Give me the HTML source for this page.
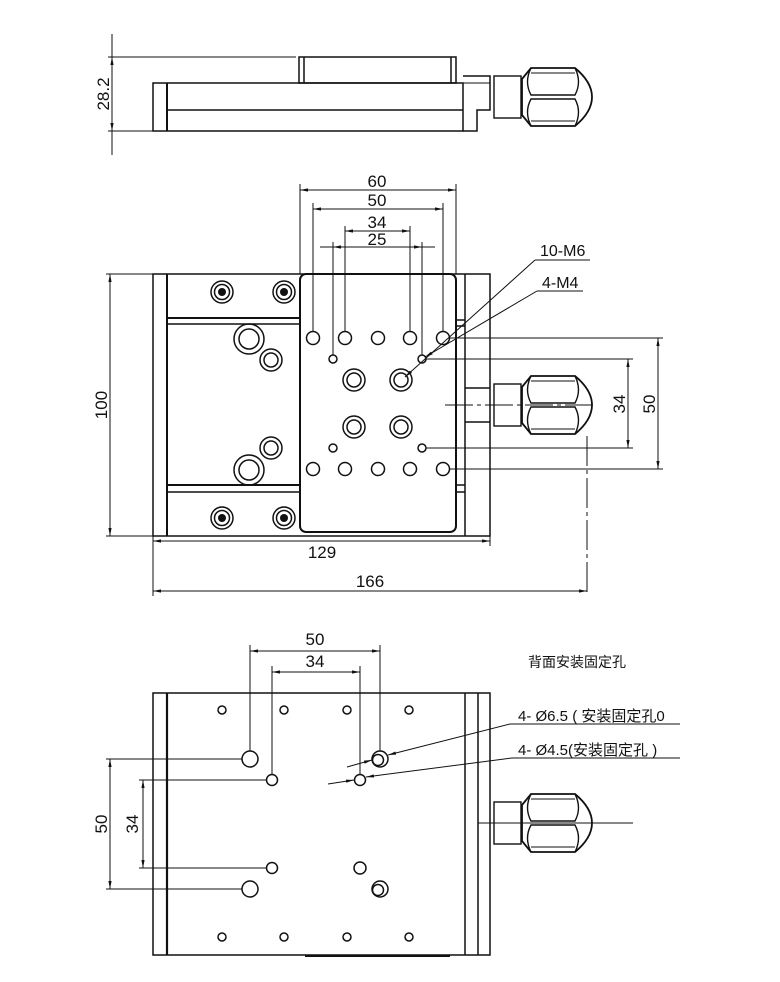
<!DOCTYPE html>
<html><head><meta charset="utf-8"><style>
html,body{margin:0;padding:0;background:#fff}
svg{display:block}
text{font-family:"Liberation Sans Narrow","Liberation Sans","Noto Sans CJK SC",sans-serif;fill:#111}
</style></head><body>
<svg width="780" height="982" viewBox="0 0 780 982" xmlns="http://www.w3.org/2000/svg">
<defs>
<marker id="a" viewBox="0 0 10 10" refX="10" refY="5" markerWidth="8" markerHeight="8" orient="auto-start-reverse"><path d="M0,3 L10,5 L0,7 z" fill="#111"/></marker>
<g id="knob">
<rect x="494" y="-21" width="27" height="42" fill="none" stroke="#111" stroke-width="1.4"/>
<path d="M531,-29 L575,-29 Q592,-15 592,0 Q592,15 575,29 L531,29 L522,18 L522,-18 Z" fill="none" stroke="#111" stroke-width="1.8"/>
<path d="M531,-29 Q524,-15 531,-2 L575,-2 Q582,-15 575,-29" fill="none" stroke="#111" stroke-width="1.4"/>
<path d="M531,29 Q524,15 531,2 L575,2 Q582,15 575,29" fill="none" stroke="#111" stroke-width="1.4"/>
<line x1="531" y1="-24" x2="575" y2="-24" stroke="#111" stroke-width="1"/>
<line x1="531" y1="24" x2="575" y2="24" stroke="#111" stroke-width="1"/>
</g>
</defs>
<g fill="none" stroke="#111" stroke-width="1.5">
<!-- TOP VIEW -->
<line x1="112" y1="34" x2="112" y2="155" stroke-width="1"/>
<line x1="112" y1="57" x2="112" y2="131" marker-start="url(#a)" marker-end="url(#a)" stroke-width="1"/>
<line x1="108" y1="57" x2="296" y2="57" stroke-width="1"/>
<line x1="108" y1="131" x2="153" y2="131" stroke-width="1"/>
<rect x="153" y="83" width="310" height="48"/>
<line x1="167" y1="83" x2="167" y2="131" stroke-width="2"/>
<line x1="167" y1="110" x2="463" y2="110"/>
<rect x="299" y="57" width="157" height="26"/>
<line x1="304" y1="57" x2="304" y2="83"/><line x1="451" y1="57" x2="451" y2="83"/>
<path d="M463,76 L490,76 L490,110 L477,110 L477,131 L463,131"/>
<line x1="463" y1="83" x2="490" y2="83" stroke-width="1"/>
<g transform="translate(0,97)"><use href="#knob"/></g>
<!-- MIDDLE VIEW -->
<rect x="153" y="274" width="337" height="262"/>
<line x1="167" y1="274" x2="167" y2="536" stroke-width="2"/>
<line x1="465" y1="274" x2="465" y2="536"/>
<rect x="300" y="274" width="156" height="258" rx="6" stroke-width="2"/>
<line x1="167" y1="318" x2="300" y2="318" stroke-width="2"/><line x1="167" y1="324" x2="300" y2="324"/>
<line x1="167" y1="485" x2="300" y2="485" stroke-width="2"/><line x1="167" y1="492" x2="300" y2="492"/>
<line x1="456" y1="320" x2="465" y2="320"/><line x1="456" y1="326" x2="465" y2="326"/>
<line x1="456" y1="485" x2="465" y2="485"/><line x1="456" y1="492" x2="465" y2="492"/>
<g>
<circle cx="222" cy="292" r="11"/><circle cx="222" cy="292" r="7.5"/>
<circle cx="284" cy="292" r="11"/><circle cx="284" cy="292" r="7.5"/>
<circle cx="222" cy="518" r="11"/><circle cx="222" cy="518" r="7.5"/>
<circle cx="284" cy="518" r="11"/><circle cx="284" cy="518" r="7.5"/>
</g>
<g fill="#111" stroke="none"><circle cx="222" cy="292" r="4"/><circle cx="284" cy="292" r="4"/><circle cx="222" cy="518" r="4"/><circle cx="284" cy="518" r="4"/></g>
<circle cx="249" cy="339" r="15"/><circle cx="249" cy="339" r="10"/>
<circle cx="271" cy="360" r="11"/><circle cx="271" cy="360" r="7"/>
<circle cx="271" cy="448" r="11"/><circle cx="271" cy="448" r="7"/>
<circle cx="249" cy="470" r="15"/><circle cx="249" cy="470" r="10"/>
<g>
<circle cx="313" cy="338" r="6.5"/><circle cx="345" cy="338" r="6.5"/><circle cx="378" cy="338" r="6.5"/><circle cx="410" cy="338" r="6.5"/><circle cx="443" cy="338" r="6.5"/>
<circle cx="313" cy="469" r="6.5"/><circle cx="345" cy="469" r="6.5"/><circle cx="378" cy="469" r="6.5"/><circle cx="410" cy="469" r="6.5"/><circle cx="443" cy="469" r="6.5"/>
<circle cx="333" cy="359" r="4"/><circle cx="422" cy="359" r="4"/><circle cx="333" cy="448" r="4"/><circle cx="422" cy="448" r="4"/>
<circle cx="354" cy="380" r="11"/><circle cx="354" cy="380" r="7"/>
<circle cx="401" cy="380" r="11"/><circle cx="401" cy="380" r="7"/>
<circle cx="354" cy="427" r="11"/><circle cx="354" cy="427" r="7"/>
<circle cx="401" cy="427" r="11"/><circle cx="401" cy="427" r="7"/>
</g>
<line x1="465" y1="388" x2="490" y2="388"/><line x1="465" y1="422" x2="490" y2="422"/>
<g transform="translate(0,405)"><use href="#knob"/></g>
<line x1="445" y1="405" x2="597" y2="405" stroke-width="1" stroke-dasharray="28,4,4,4"/>
<g stroke-width="1">
<line x1="300" y1="184" x2="300" y2="274"/><line x1="456" y1="184" x2="456" y2="274"/>
<line x1="300" y1="190" x2="456" y2="190" marker-start="url(#a)" marker-end="url(#a)"/>
<line x1="313" y1="203" x2="313" y2="332"/><line x1="443" y1="203" x2="443" y2="332"/>
<line x1="313" y1="209" x2="443" y2="209" marker-start="url(#a)" marker-end="url(#a)"/>
<line x1="345" y1="226" x2="345" y2="332"/><line x1="410" y1="226" x2="410" y2="332"/>
<line x1="345" y1="231" x2="410" y2="231" marker-start="url(#a)" marker-end="url(#a)"/>
<line x1="333" y1="242" x2="333" y2="355"/><line x1="422" y1="242" x2="422" y2="355"/>
<line x1="320" y1="247" x2="333" y2="247"/><line x1="422" y1="247" x2="435" y2="247"/>
<line x1="333" y1="247" x2="422" y2="247" marker-start="url(#a)" marker-end="url(#a)"/>
<line x1="535" y1="260" x2="590" y2="260"/><line x1="535" y1="260" x2="405" y2="377" marker-end="url(#a)"/>
<line x1="537" y1="291" x2="583" y2="291"/><line x1="537" y1="291" x2="425" y2="357" marker-end="url(#a)"/>
<line x1="449" y1="338" x2="663" y2="338"/><line x1="449" y1="469" x2="663" y2="469"/>
<line x1="426" y1="359" x2="633" y2="359"/><line x1="426" y1="448" x2="633" y2="448"/>
<line x1="658" y1="338" x2="658" y2="469" marker-start="url(#a)" marker-end="url(#a)"/>
<line x1="628" y1="359" x2="628" y2="448" marker-start="url(#a)" marker-end="url(#a)"/>
<line x1="106" y1="274" x2="153" y2="274"/><line x1="106" y1="536" x2="153" y2="536"/>
<line x1="110" y1="274" x2="110" y2="536" marker-start="url(#a)" marker-end="url(#a)"/>
<line x1="153" y1="536" x2="153" y2="596"/><line x1="490" y1="536" x2="490" y2="546"/>
<line x1="587" y1="436" x2="587" y2="596" stroke-dasharray="30,4,4,4"/>
<line x1="153" y1="541" x2="490" y2="541" marker-start="url(#a)" marker-end="url(#a)"/>
<line x1="153" y1="591" x2="587" y2="591" marker-start="url(#a)" marker-end="url(#a)"/>
</g>
<!-- BOTTOM VIEW -->
<rect x="153" y="693" width="337" height="262"/>
<line x1="167" y1="693" x2="167" y2="955" stroke-width="2.2"/>
<line x1="465" y1="693" x2="465" y2="955"/><line x1="478" y1="693" x2="478" y2="955"/>
<line x1="305" y1="956" x2="450" y2="956" stroke-width="2"/>
<g>
<circle cx="222" cy="710" r="4"/><circle cx="284" cy="710" r="4"/><circle cx="347" cy="710" r="4"/><circle cx="409" cy="710" r="4"/>
<circle cx="222" cy="937" r="4"/><circle cx="284" cy="937" r="4"/><circle cx="347" cy="937" r="4"/><circle cx="409" cy="937" r="4"/>
<circle cx="250" cy="759" r="8"/><circle cx="250" cy="889" r="8"/>
<circle cx="272" cy="780" r="5.5"/><circle cx="272" cy="868" r="5.5"/>
<circle cx="360" cy="780" r="5.5"/><circle cx="360" cy="868" r="6"/>
<circle cx="380" cy="759" r="8"/><circle cx="378" cy="760" r="5.5"/>
<circle cx="380" cy="889" r="8"/><circle cx="378" cy="890" r="5.5"/>
</g>
<g transform="translate(0,823)"><use href="#knob"/></g>
<line x1="478" y1="823" x2="633" y2="823" stroke-width="1"/>
<g stroke-width="1">
<line x1="250" y1="645" x2="250" y2="751"/><line x1="380" y1="645" x2="380" y2="751"/>
<line x1="250" y1="651" x2="380" y2="651" marker-start="url(#a)" marker-end="url(#a)"/>
<line x1="272" y1="666" x2="272" y2="774"/><line x1="360" y1="666" x2="360" y2="774"/>
<line x1="272" y1="672" x2="360" y2="672" marker-start="url(#a)" marker-end="url(#a)"/>
<line x1="106" y1="759" x2="242" y2="759"/><line x1="106" y1="889" x2="242" y2="889"/>
<line x1="110" y1="759" x2="110" y2="889" marker-start="url(#a)" marker-end="url(#a)"/>
<line x1="139" y1="780" x2="266" y2="780"/><line x1="139" y1="868" x2="266" y2="868"/>
<line x1="143" y1="780" x2="143" y2="868" marker-start="url(#a)" marker-end="url(#a)"/>
<line x1="510" y1="724" x2="680" y2="724"/><line x1="510" y1="724" x2="388" y2="755" marker-end="url(#a)"/>
<line x1="372" y1="760" x2="347" y2="767" marker-start="url(#a)"/>
<line x1="512" y1="758" x2="680" y2="758"/><line x1="512" y1="758" x2="366" y2="777" marker-end="url(#a)"/>
<line x1="354" y1="780" x2="328" y2="784" marker-start="url(#a)"/>
</g>
</g>
<g font-size="17">
<text x="109" y="94" text-anchor="middle" transform="rotate(-90 109 94)">28.2</text>
<text x="377" y="187" text-anchor="middle">60</text>
<text x="377" y="206" text-anchor="middle">50</text>
<text x="377" y="228" text-anchor="middle">34</text>
<text x="377" y="245" text-anchor="middle">25</text>
<text x="540" y="256" font-size="16">10-M6</text>
<text x="542" y="288" font-size="16">4-M4</text>
<text x="655" y="404" text-anchor="middle" transform="rotate(-90 655 404)">50</text>
<text x="625" y="404" text-anchor="middle" transform="rotate(-90 625 404)">34</text>
<text x="107" y="405" text-anchor="middle" transform="rotate(-90 107 405)">100</text>
<text x="322" y="558" text-anchor="middle">129</text>
<text x="370" y="587" text-anchor="middle">166</text>
<text x="315" y="645" text-anchor="middle">50</text>
<text x="315" y="667" text-anchor="middle">34</text>
<text x="107" y="824" text-anchor="middle" transform="rotate(-90 107 824)">50</text>
<text x="138" y="824" text-anchor="middle" transform="rotate(-90 138 824)">34</text>
<text x="528" y="667" font-size="14" font-family="Noto Sans CJK SC, sans-serif">背面安装固定孔</text>
<text x="518" y="721" font-size="15">4- Ø6.5 ( 安装固定孔0</text>
<text x="518" y="755" font-size="15">4- Ø4.5(安装固定孔 )</text>
</g>
</svg>
</body></html>
